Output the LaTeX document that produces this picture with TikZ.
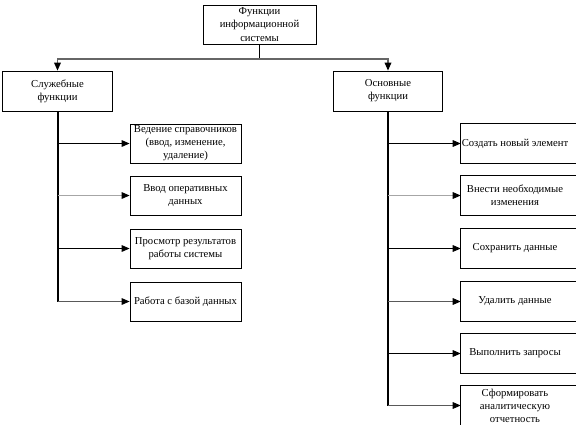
\documentclass[tikz,border=0pt]{standalone}
\usepackage{fontspec}
\setmainfont{Liberation Serif}
\usetikzlibrary{arrows.meta}
\tikzset{
  txt/.style={font=\fontsize{8}{9.8}\selectfont, align=center, inner sep=0.5pt},
  tbox/.style={txt, draw, line width=0.6pt, minimum width=84.75pt, minimum height=29.25pt},
  mbox/.style={txt, draw, line width=0.6pt, minimum width=82pt, minimum height=30pt},
  lbox/.style={txt, draw, line width=0.6pt, minimum width=83.25pt, minimum height=29.25pt},
  rbox/.style={txt, minimum width=81pt, minimum height=29.25pt},
  edge/.style={line width=0.6pt},
  stem/.style={line width=1.5pt},
  tip/.style={-{Triangle[length=6pt,width=5pt,color=black]}},
  branch/.style={line width=0.7pt, tip},
}
\begin{document}
\begin{tikzpicture}[x=0.75pt,y=-0.75pt]
\useasboundingbox (0,0) rectangle (576,430);
\clip (0,0) rectangle (576,430);
% top
\node[tbox] (top) at (259.5,24.5) {Функции\\информационной\\системы};
\node[mbox] (ls) at (57.5,91) {Служебные\\функции};
\node[mbox] (rs) at (388,91) {Основные\\функции};
\coordinate (j) at (259.5,59);
\draw[line width=0.8pt] (top.south) -- (j);
\draw[line width=1pt, draw=black!60, tip] (j) -| (ls.north);
\draw[line width=1pt, draw=black!60, tip] (j) -| (rs.north);
% left children
\node[lbox] (l1) at (185.5,143.5) {Ведение справочников\\(ввод, изменение,\\удаление)};
\node[lbox] (l2) at (185.5,195.5) {Ввод оперативных\\данных};
\node[lbox] (l3) at (185.5,248.5) {Просмотр результатов\\работы системы};
\node[lbox] (l4) at (185.5,301.5) {Работа с базой данных};
\draw[stem] (ls.south) -- (ls.south |- l4.west);
\draw[branch] (ls.south |- l1.west) -- (l1.west);
\draw[branch, draw=black!35] (ls.south |- l2.west) -- (l2.west);
\draw[branch] (ls.south |- l3.west) -- (l3.west);
\draw[branch, draw=black!65] (ls.south |- l4.west) -- (l4.west);
% right children
\node[rbox] (r1) at (515,143.5) {Создать новый элемент};
\node[rbox] (r2) at (515,195.5) {Внести необходимые\\изменения};
\node[rbox] (r3) at (515,248.5) {Сохранить данные};
\node[rbox] (r4) at (515,301.5) {Удалить данные};
\node[rbox] (r5) at (515,353.5) {Выполнить запросы};
\node[rbox] (r6) at (515,405.5) {Сформировать\\аналитическую\\отчетность};
\foreach \n in {r1,r2,r3,r4,r5}
  \draw[edge] ([xshift=15pt]\n.north east) -- (\n.north west) -- (\n.south west) -- ([xshift=15pt]\n.south east);
\draw[edge] ([xshift=15pt]r6.north east) -- (r6.north west) -- (r6.south west);
\draw[stem] (rs.south) -- (rs.south |- r6.west);
\draw[branch] (rs.south |- r1.west) -- (r1.west);
\draw[branch, draw=black!35] (rs.south |- r2.west) -- (r2.west);
\draw[branch] (rs.south |- r3.west) -- (r3.west);
\draw[branch, draw=black!65] (rs.south |- r4.west) -- (r4.west);
\draw[branch] (rs.south |- r5.west) -- (r5.west);
\draw[branch, draw=black!65] (rs.south |- r6.west) -- (r6.west);
\end{tikzpicture}
\end{document}
